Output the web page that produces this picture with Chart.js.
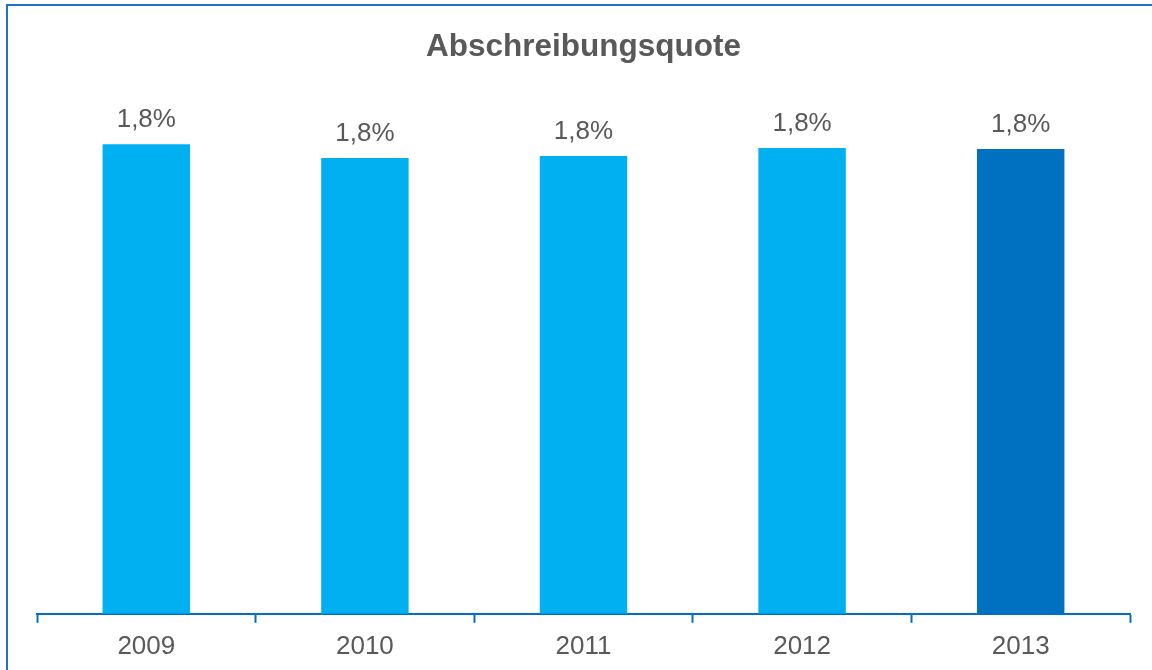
<!DOCTYPE html>
<html>
<head>
<meta charset="utf-8">
<script src="https://cdn.jsdelivr.net/npm/chart.js@4"></script>
<style>
  html, body { margin: 0; padding: 0; background: #fff; }
  #wrap { width: 1152px; height: 670px; position: relative; }
</style>
</head>
<body>
<div id="wrap"><canvas id="chart"></canvas></div>
<script>
"use strict"

const years = ['2009', '2010', '2011', '2012', '2013'];
const quote = [1.832, 1.778, 1.786, 1.817, 1.813];
const labelsText = ['1,8%', '1,8%', '1,8%', '1,8%', '1,8%'];
const barColors = ['#00B0F0', '#00B0F0', '#00B0F0', '#00B0F0', '#0070C0'];

const grey = '#595959';
const blue = '#0070C0';

// cadre bleu (haut + gauche)
const framePlugin = {
    id: 'frame',
    beforeDraw(chart) {
        const ctx = chart.ctx;
        ctx.save();
        ctx.fillStyle = '#1F72C6';
        ctx.fillRect(6, 4, 2, 666);
        ctx.fillRect(6, 4, 1146, 2);
        ctx.restore();
    }
};

// étiquettes au-dessus des barres
const valueLabels = {
    id: 'valueLabels',
    afterDatasetsDraw(chart) {
        const ctx = chart.ctx;
        const meta = chart.getDatasetMeta(0);
        ctx.save();
        ctx.font = '26px "Liberation Sans", Arial, sans-serif';
        ctx.fillStyle = grey;
        ctx.textAlign = 'center';
        ctx.textBaseline = 'alphabetic';
        meta.data.forEach((bar, i) => {
            ctx.fillText(labelsText[i], bar.x, bar.y - 17);
        });
        ctx.restore();
    }
};

const ctx = document.getElementById('chart').getContext('2d');

new Chart(ctx, {
    type: 'bar',
    data: {
        labels: years,
        datasets: [{
            data: quote,
            backgroundColor: barColors,
            borderWidth: 0,
            categoryPercentage: 1,
            barPercentage: 0.4
        }]
    },
    options: {
        responsive: true,
        maintainAspectRatio: false,
        animation: false,
        layout: {
            padding: { left: 37, right: 22, top: 0, bottom: 0 }
        },
        plugins: {
            legend: { display: false },
            tooltip: { enabled: false },
            title: {
                display: true,
                text: 'Abschreibungsquote',
                color: grey,
                font: { family: '"Liberation Sans", Arial, sans-serif', size: 31.5, weight: 'bold' },
                padding: { top: 28, bottom: 34 }
            }
        },
        scales: {
            x: {
                offset: true,
                grid: {
                    offset: true,
                    drawOnChartArea: false,
                    drawTicks: true,
                    tickLength: 9,
                    tickWidth: 2,
                    tickColor: blue,
                    color: blue
                },
                border: { display: true, color: blue, width: 2 },
                ticks: {
                    color: grey,
                    padding: 8,
                    font: { family: '"Liberation Sans", Arial, sans-serif', size: 26 }
                }
            },
            y: {
                display: false,
                min: 0,
                max: 2.005
            }
        }
    },
    plugins: [framePlugin, valueLabels]
});
</script>
</body>
</html>
